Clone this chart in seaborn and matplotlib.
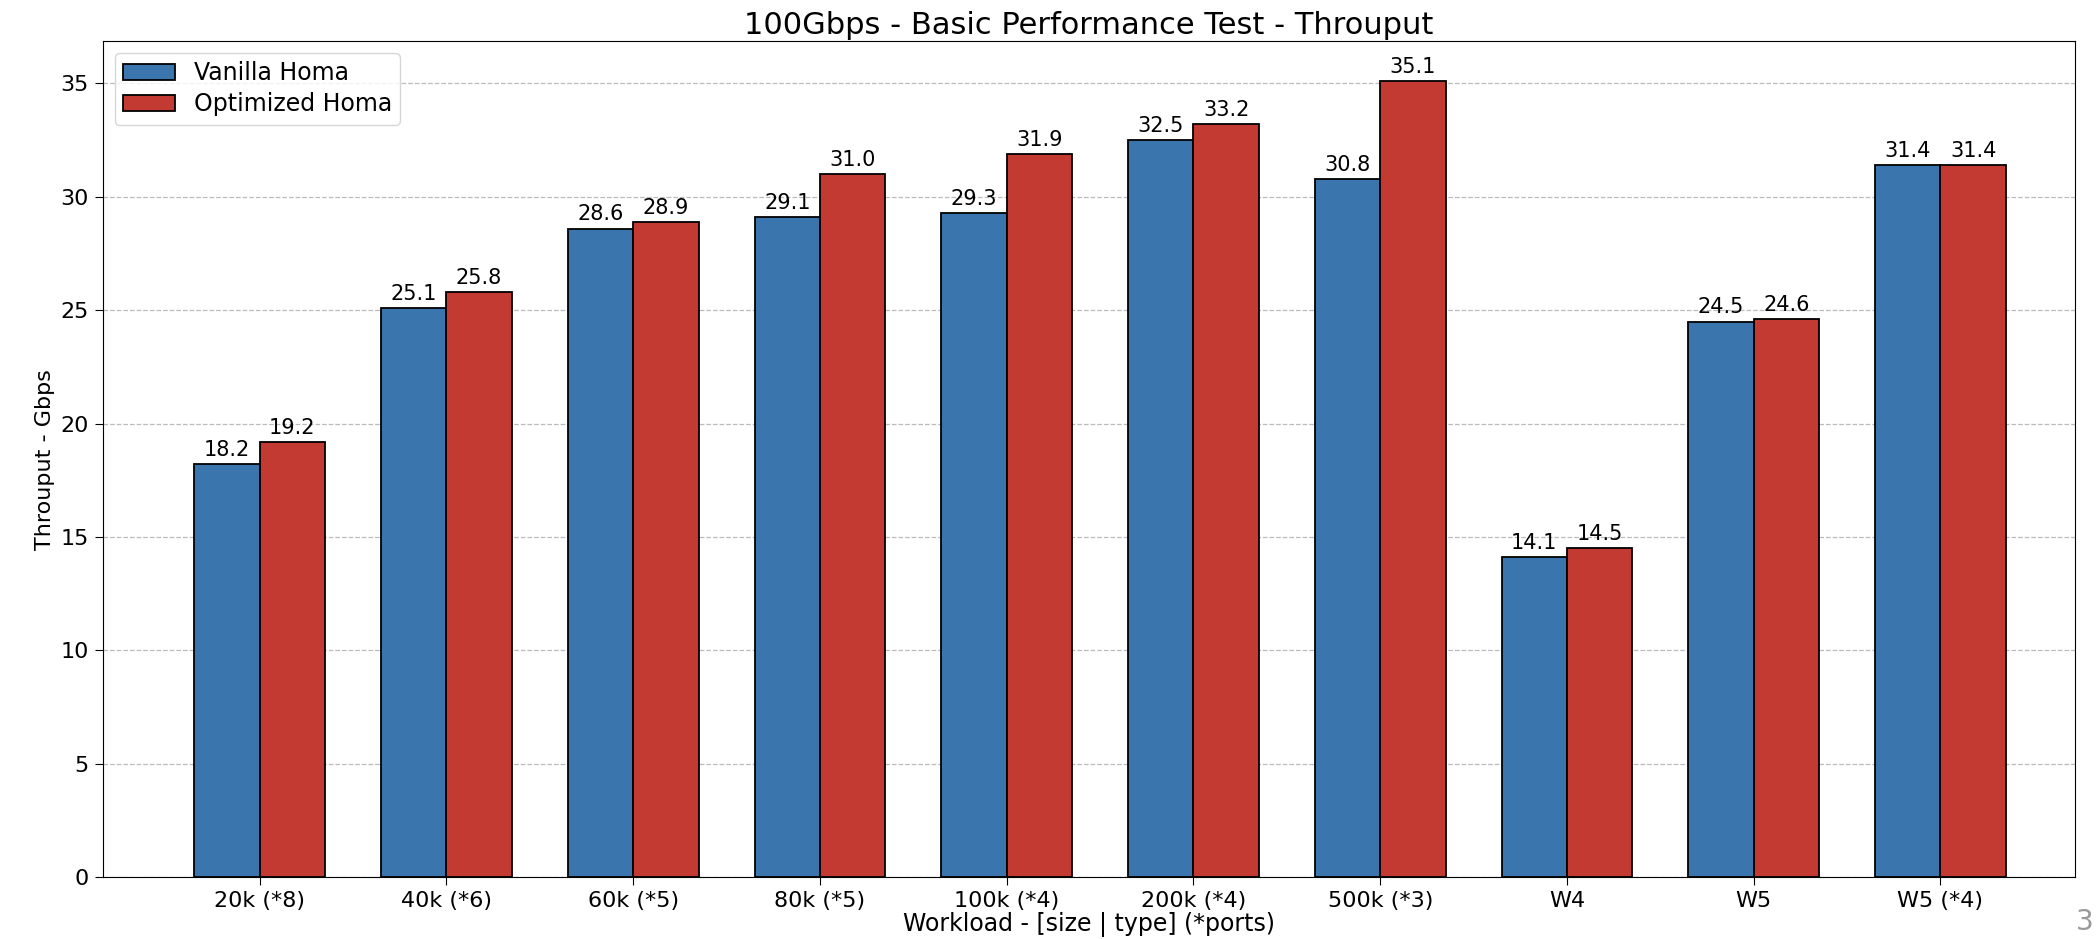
import matplotlib
matplotlib.use("Agg")
import matplotlib.pyplot as plt
import seaborn as sns
import pandas as pd
from matplotlib.patches import Patch

workloads = ["20k (*8)", "40k (*6)", "60k (*5)", "80k (*5)", "100k (*4)",
             "200k (*4)", "500k (*3)", "W4", "W5", "W5 (*4)"]
vanilla = [18.2, 25.1, 28.6, 29.1, 29.3, 32.5, 30.8, 14.1, 24.5, 31.4]
optimized = [19.2, 25.8, 28.9, 31.0, 31.9, 33.2, 35.1, 14.5, 24.6, 31.4]
series = ["Vanilla Homa", "Optimized Homa"]
colors = ["#3A75AE", "#C33A32"]

df = pd.DataFrame({
    "workload": workloads * 2,
    "value": vanilla + optimized,
    "series": [series[0]] * len(workloads) + [series[1]] * len(workloads),
})

plt.rcParams["font.family"] = ["DejaVu Sans"]
fig = plt.figure(figsize=(20.98, 9.39), dpi=100)
ax = fig.add_axes([0.049, 0.066, 0.940, 0.890])

sns.barplot(data=df, x="workload", y="value", hue="series", order=workloads,
            hue_order=series, palette=colors, width=0.7, edgecolor="black",
            linewidth=1.3, saturation=1, ax=ax, legend=False)

for cont in ax.containers:
    ax.bar_label(cont, fmt="%.1f", padding=3, fontsize=15)

ax.set_axisbelow(True)
ax.yaxis.grid(True, linestyle="--", color="#bbbbbb", linewidth=0.9)
ax.set_xlim(-0.84, 9.72)
ax.set_ylim(0, 36.86)

ax.set_title("100Gbps - Basic Performance Test - Throuput", fontsize=22, pad=5)
ax.set_xlabel("Workload - [size | type] (*ports)", fontsize=17, labelpad=1)
ax.set_ylabel("Throuput - Gbps", fontsize=16)
ax.tick_params(axis="both", labelsize=16, length=6, pad=4)

handles = [Patch(facecolor=c, edgecolor="black", linewidth=1.3) for c in colors]
ax.legend(handles, series, loc="upper left", fontsize=17, frameon=True,
          framealpha=0.8, handlelength=2.2, borderpad=0.35, labelspacing=0.3)

fig.text(0.998, 0.003, "3", fontsize=20, color="#999999", ha="right", va="bottom")

fig.savefig("out.png", dpi=100)
